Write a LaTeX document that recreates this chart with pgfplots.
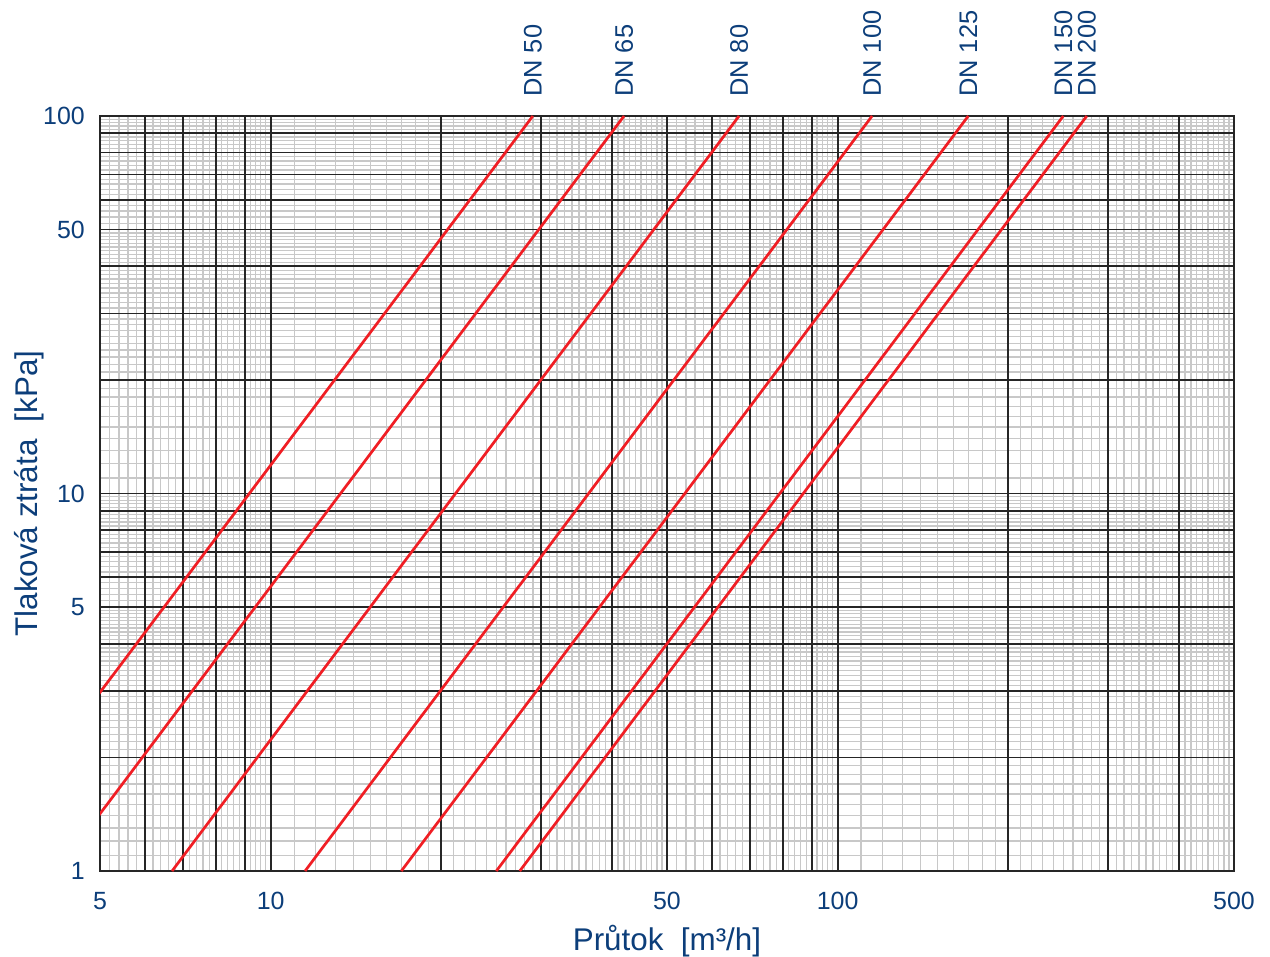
\documentclass[border=0pt]{standalone}
\usepackage{pgfplots}
\pgfplotsset{compat=1.18}
\usepackage{fontspec}
\setmainfont{Liberation Sans}
\definecolor{txtblue}{RGB}{12,62,122}
\definecolor{dnred}{RGB}{240,30,36}
\definecolor{majgrid}{RGB}{38,38,38}
\definecolor{mingrid}{RGB}{200,200,200}
\begin{document}
\begin{tikzpicture}
\useasboundingbox (-100bp,-86bp) rectangle (1170bp,871bp);
\begin{axis}[
  at={(0,0)}, anchor=south west,
  scale only axis, width=1134bp, height=755bp,
  xmode=log, ymode=log,
  xmin=5, xmax=500, ymin=1, ymax=100,
  enlargelimits=false,
  clip mode=individual,
  xtick={5,10,50,100,500},
  xticklabels={5,10,50,100,500},
  ytick={1,5,10,50,100},
  yticklabels={1,5,10,50,100},
  minor xtick={5.2,5.4,5.6,5.8,6.2,6.4,6.6,6.8,7.2,7.4,7.6,7.8,8.2,8.4,8.6,8.8,9.2,9.4,9.6,9.8,
    11,12,13,14,15,16,17,18,19,21,22,23,24,25,26,27,28,29,31,32,33,34,35,36,37,38,39,41,42,43,44,45,46,47,48,49,
    52,54,56,58,62,64,66,68,72,74,76,78,82,84,86,88,92,94,96,98,
    110,120,130,140,150,160,170,180,190,210,220,230,240,250,260,270,280,290,
    310,320,330,340,350,360,370,380,390,410,420,430,440,450,460,470,480,490},
  minor ytick={1.1,1.2,1.3,1.4,1.5,1.6,1.7,1.8,1.9,2.1,2.2,2.3,2.4,2.5,2.6,2.7,2.8,2.9,
    3.1,3.2,3.3,3.4,3.5,3.6,3.7,3.8,3.9,4.1,4.2,4.3,4.4,4.5,4.6,4.7,4.8,4.9,
    5.2,5.4,5.6,5.8,6.2,6.4,6.6,6.8,7.2,7.4,7.6,7.8,8.2,8.4,8.6,8.8,9.2,9.4,9.6,9.8,
    11,12,13,14,15,16,17,18,19,21,22,23,24,25,26,27,28,29,31,32,33,34,35,36,37,38,39,41,42,43,44,45,46,47,48,49,
    52,54,56,58,62,64,66,68,72,74,76,78,82,84,86,88,92,94,96,98},
  xminorgrids=true, yminorgrids=true,
  xmajorgrids=false, ymajorgrids=false,
  extra x ticks={6,7,8,9,10,20,30,40,50,60,70,80,90,100,200,300,400},
  extra y ticks={2,3,4,5,6,7,8,9,10,20,30,40,50,60,70,80,90},
  extra x tick labels={},
  extra y tick labels={},
  extra tick style={grid=major, major tick length=0pt},
  major grid style={majgrid, line width=1.7bp},
  minor grid style={mingrid, line width=1.3bp},
  major tick length=0pt, minor tick length=0pt,
  axis line style={majgrid, line width=1.7bp},
  /pgf/number format/assume math mode=true,
  tick label style={font=\fontsize{25}{30}\selectfont, text=txtblue},
  xticklabel style={anchor=base, inner sep=0pt, yshift=-38.5bp},
  yticklabel style={anchor=east, inner sep=0pt, xshift=-15bp},
  xlabel={Průtok\ \ [m³/h]},
  ylabel={Tlaková ztráta\ \ [kPa]},
  label style={font=\fontsize{31.5}{37}\selectfont, text=txtblue, inner sep=0pt},
  xlabel style={at={(axis description cs:0.5,-0.10464)}, anchor=base},
  ylabel style={at={(axis description cs:-0.05556,0.5)}, anchor=base, rotate=0},
]
\addplot[dnred, line width=2.7bp] coordinates {(2.9,1) (29,100)};
\addplot[dnred, line width=2.7bp] coordinates {(4.2,1) (42,100)};
\addplot[dnred, line width=2.7bp] coordinates {(6.7,1) (67,100)};
\addplot[dnred, line width=2.7bp] coordinates {(11.5,1) (115,100)};
\addplot[dnred, line width=2.7bp] coordinates {(17,1) (170,100)};
\addplot[dnred, line width=2.7bp] coordinates {(25,1) (250,100)};
\addplot[dnred, line width=2.7bp] coordinates {(27.5,1) (275,100)};
\tikzset{dnlab/.style={rotate=90, anchor=west, inner sep=0pt, text=txtblue, font=\fontsize{25.5}{30}\selectfont}}
\node[dnlab] at ([yshift=19bp]axis cs:29,100) {DN 50};
\node[dnlab] at ([yshift=19bp]axis cs:42,100) {DN 65};
\node[dnlab] at ([yshift=19bp]axis cs:67,100) {DN 80};
\node[dnlab] at ([yshift=19bp]axis cs:115,100) {DN 100};
\node[dnlab] at ([yshift=19bp]axis cs:170,100) {DN 125};
\node[dnlab] at ([yshift=19bp]axis cs:250,100) {DN 150};
\node[dnlab] at ([yshift=19bp]axis cs:275,100) {DN 200};
\end{axis}
\end{tikzpicture}
\end{document}
